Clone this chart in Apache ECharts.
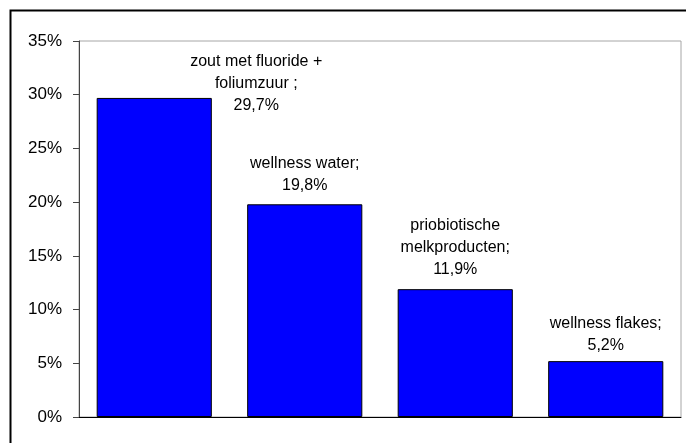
<!DOCTYPE html>
<html>
<head>
<meta charset="utf-8">
<style>
  html, body { margin: 0; padding: 0; background: #fff; }
  #chart { width: 686px; height: 443px; }
</style>
<script src="https://cdn.jsdelivr.net/npm/echarts@6/dist/echarts.min.js"></script>
</head>
<body>
<div id="chart"></div>
<script>
// Product categories and their shares (percent)
const categories = ['zout met fluoride + foliumzuur', 'wellness water', 'priobiotische melkproducten', 'wellness flakes'];
const labelLines = [
  ['zout met fluoride +', 'foliumzuur ;'],
  ['wellness water;'],
  ['priobiotische', 'melkproducten;'],
  ['wellness flakes;']
];
const values = [29.7, 19.8, 11.9, 5.2];
const yTicks = [0, 5, 10, 15, 20, 25, 30, 35];

// Per-bar placement of the value labels
const labelOffsets = [[102, 24], [0, 0], [0, 0], [0, 0]];
const labelDistances = [5, 8, 9, 5];

const fmt = v => v.toFixed(1).replace('.', ',') + '%';

const chart = echarts.init(document.getElementById('chart'));
chart.setOption({
  animation: false,
  backgroundColor: '#fff',
  textStyle: { fontFamily: 'Liberation Sans, Arial, sans-serif' },
  graphic: [{
    type: 'rect',
    shape: { x: 10.5, y: 10.5, width: 690, height: 450 },
    style: { fill: 'none', stroke: '#000', lineWidth: 2 },
    silent: true
  }],
  grid: {
    left: 79, top: 41, right: 5, bottom: 26,
    show: true, borderColor: '#a6a6a6', borderWidth: 1, backgroundColor: '#fff'
  },
  xAxis: {
    type: 'category',
    data: categories,
    axisLine: { lineStyle: { color: '#000', width: 1 } },
    axisTick: { show: false },
    axisLabel: { show: false }
  },
  yAxis: {
    type: 'value',
    min: yTicks[0], max: yTicks[yTicks.length - 1], interval: 5,
    axisLine: { show: true, lineStyle: { color: '#444' } },
    axisTick: { show: true, inside: false, length: 6, lineStyle: { color: '#444' } },
    splitLine: { show: false },
    axisLabel: {
      color: '#000', fontSize: 17, margin: 17,
      fontFamily: 'Liberation Sans, Arial, sans-serif',
      formatter: v => v + '%'
    }
  },
  series: [{
    type: 'bar',
    barCategoryGap: '23.5%',
    data: values.map((v, i) => ({
      value: v,
      label: {
        show: true,
        position: 'top',
        distance: labelDistances[i],
        offset: labelOffsets[i],
        align: 'center',
        color: '#000',
        fontSize: 16,
        lineHeight: 22,
        fontFamily: 'Liberation Sans, Arial, sans-serif',
        formatter: () => labelLines[i].concat([fmt(v)]).join('\n')
      }
    })),
    itemStyle: { color: '#0000ff', borderColor: '#000', borderWidth: 1 }
  }]
});
</script>
</body>
</html>
